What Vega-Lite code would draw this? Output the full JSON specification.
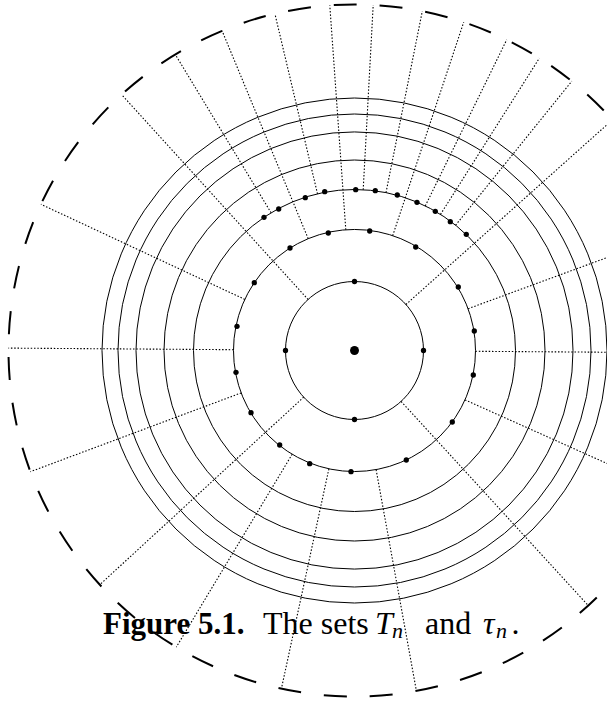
{
  "$schema": "https://vega.github.io/schema/vega-lite/v6.json",
  "width": 607,
  "height": 707,
  "padding": 0,
  "autosize": {"type": "none"},
  "background": "white",
  "config": {"view": {"stroke": null}},
  "layer": [
    {
      "data": {"values": [
        {"x": 51.4, "y": 46.0, "x2": 257.9, "y2": 230.6},
        {"x": -46.4, "y": 51.0, "x2": -232.9, "y2": 255.9},
        {"x": -50.8, "y": -46.7, "x2": -254.7, "y2": -234.2},
        {"x": 46.6, "y": -50.9, "x2": 233.8, "y2": -255.1},
        {"x": 113.6, "y": 41.8, "x2": 324.7, "y2": 119.5},
        {"x": 38.2, "y": 114.8, "x2": 109.2, "y2": 328.3},
        {"x": -8.7, "y": 120.7, "x2": -24.7, "y2": 345.1},
        {"x": -46.3, "y": 111.8, "x2": -132.4, "y2": 319.7},
        {"x": -109.7, "y": 51.1, "x2": -313.6, "y2": 146.2},
        {"x": -121.0, "y": 0.8, "x2": -346.0, "y2": 2.4},
        {"x": -113.3, "y": -42.4, "x2": -324.1, "y2": -121.2},
        {"x": -62.3, "y": -103.7, "x2": -178.2, "y2": -296.6},
        {"x": -25.6, "y": -118.3, "x2": -73.1, "y2": -338.2},
        {"x": 21.6, "y": -119.1, "x2": 61.9, "y2": -340.4},
        {"x": 110.5, "y": -49.4, "x2": 315.8, "y2": -141.3},
        {"x": 121.0, "y": -0.8, "x2": 346.0, "y2": -2.4},
        {"x": 101.1, "y": 125.3, "x2": 217.3, "y2": 269.3},
        {"x": 86.0, "y": 136.1, "x2": 184.9, "y2": 292.4},
        {"x": 70.8, "y": 144.6, "x2": 152.2, "y2": 310.7},
        {"x": 31.5, "y": 157.9, "x2": 67.8, "y2": 339.3},
        {"x": 8.7, "y": 160.8, "x2": 18.7, "y2": 345.5},
        {"x": -37.0, "y": 156.7, "x2": -79.6, "y2": 336.7},
        {"x": -83.4, "y": 137.7, "x2": -179.2, "y2": 296.0}
      ]},
      "mark": {"type": "rule", "color": "black", "strokeWidth": 1.1, "strokeDash": [1.5, 1.8], "clip": true},
      "encoding": {
        "x": {"field": "x", "type": "quantitative", "scale": {"domain": [-354.5, 252.5], "nice": false, "zero": false}, "axis": null},
        "y": {"field": "y", "type": "quantitative", "scale": {"domain": [-356.5, 350.5], "nice": false, "zero": false}, "axis": null},
        "x2": {"field": "x2"},
        "y2": {"field": "y2"}
      }
    },
    {
      "data": {"values": [
        {"x": 0, "y": 0, "r": 69},
        {"x": 0, "y": 0, "r": 121},
        {"x": 0, "y": 0, "r": 161},
        {"x": 0, "y": 0, "r": 190.5},
        {"x": 0, "y": 0, "r": 218.5},
        {"x": 0, "y": 0, "r": 236.5},
        {"x": 0, "y": 0, "r": 252.5}
      ]},
      "mark": {"type": "point", "shape": "circle", "filled": false, "stroke": "black", "strokeWidth": 1, "opacity": 1, "clip": true},
      "encoding": {
        "x": {"field": "x", "type": "quantitative"},
        "y": {"field": "y", "type": "quantitative"},
        "size": {"field": "r", "type": "quantitative", "scale": {"type": "pow", "exponent": 2, "domain": [0, 346], "range": [0, 478864]}, "legend": null}
      }
    },
    {
      "data": {"values": [{"x": 0, "y": 0, "r": 346}]},
      "mark": {"type": "point", "shape": "circle", "filled": false, "stroke": "black", "strokeWidth": 2, "opacity": 1, "strokeDash": [23, 23], "strokeDashOffset": 1, "clip": true},
      "encoding": {
        "x": {"field": "x", "type": "quantitative"},
        "y": {"field": "y", "type": "quantitative"},
        "size": {"field": "r", "type": "quantitative", "scale": {"type": "pow", "exponent": 2, "domain": [0, 346], "range": [0, 478864]}, "legend": null}
      }
    },
    {
      "data": {"values": [
        {"x": 69, "y": 0}, {"x": 0, "y": 69}, {"x": -69, "y": 0}, {"x": 0, "y": -69},
        {"x": -26.2, "y": 117.5}, {"x": 15.2, "y": 119.5}, {"x": -64.5, "y": 102.5}, {"x": 61.2, "y": 103.5},
        {"x": -100.2, "y": 67.8}, {"x": 103.8, "y": 63.5}, {"x": -117.5, "y": 24.2}, {"x": 119.8, "y": 19.5},
        {"x": -118.5, "y": -21.8}, {"x": 118.8, "y": -24.5}, {"x": -103.5, "y": -62.2}, {"x": 97.8, "y": -71.5},
        {"x": -74.8, "y": -94.5}, {"x": 51.8, "y": -109.5}, {"x": -44.8, "y": -113.2}, {"x": -3.5, "y": -121.2},
        {"x": -90.5, "y": 133.2}, {"x": -75.8, "y": 141.5}, {"x": -49.2, "y": 152.8}, {"x": -29.8, "y": 158.8},
        {"x": 1.2, "y": 160.8}, {"x": 20.8, "y": 159.8}, {"x": 42.8, "y": 155.5}, {"x": 62.5, "y": 148.2},
        {"x": 80.8, "y": 139.2}, {"x": 95.8, "y": 128.8}, {"x": 111.8, "y": 116.2}
      ]},
      "mark": {"type": "point", "shape": "circle", "filled": true, "color": "black", "opacity": 1, "size": 28, "strokeWidth": 0},
      "encoding": {
        "x": {"field": "x", "type": "quantitative"},
        "y": {"field": "y", "type": "quantitative"}
      }
    },
    {
      "data": {"values": [{"x": 0, "y": 0}]},
      "mark": {"type": "point", "shape": "circle", "filled": true, "color": "black", "opacity": 1, "size": 80, "strokeWidth": 0},
      "encoding": {
        "x": {"field": "x", "type": "quantitative"},
        "y": {"field": "y", "type": "quantitative"}
      }
    },
    {
      "data": {"values": [{"x": -251.5, "y": -283.5, "t": "Figure 5.1."}]},
      "mark": {"type": "text", "font": "Liberation Serif", "fontWeight": "bold", "fontSize": 31, "align": "left", "baseline": "alphabetic", "color": "black"},
      "encoding": {
        "x": {"field": "x", "type": "quantitative"},
        "y": {"field": "y", "type": "quantitative"},
        "text": {"field": "t"}
      }
    },
    {
      "data": {"values": [
        {"x": -91.5, "y": -283.5, "t": "The sets"},
        {"x": 70.5, "y": -283.5, "t": "and"},
        {"x": 157, "y": -283.5, "t": "."}
      ]},
      "mark": {"type": "text", "font": "Liberation Serif", "fontSize": 32, "align": "left", "baseline": "alphabetic", "color": "black"},
      "encoding": {
        "x": {"field": "x", "type": "quantitative"},
        "y": {"field": "y", "type": "quantitative"},
        "text": {"field": "t"}
      }
    },
    {
      "data": {"values": [
        {"x": 20.5, "y": -283.5, "t": "T"},
        {"x": 128.5, "y": -283.5, "t": "τ"}
      ]},
      "mark": {"type": "text", "font": "Liberation Serif", "fontStyle": "italic", "fontSize": 32, "align": "left", "baseline": "alphabetic", "color": "black"},
      "encoding": {
        "x": {"field": "x", "type": "quantitative"},
        "y": {"field": "y", "type": "quantitative"},
        "text": {"field": "t"}
      }
    },
    {
      "data": {"values": [
        {"x": 37.5, "y": -287.5, "t": "n"},
        {"x": 141.5, "y": -287.5, "t": "n"}
      ]},
      "mark": {"type": "text", "font": "Liberation Serif", "fontStyle": "italic", "fontSize": 22, "align": "left", "baseline": "alphabetic", "color": "black"},
      "encoding": {
        "x": {"field": "x", "type": "quantitative"},
        "y": {"field": "y", "type": "quantitative"},
        "text": {"field": "t"}
      }
    }
  ]
}
